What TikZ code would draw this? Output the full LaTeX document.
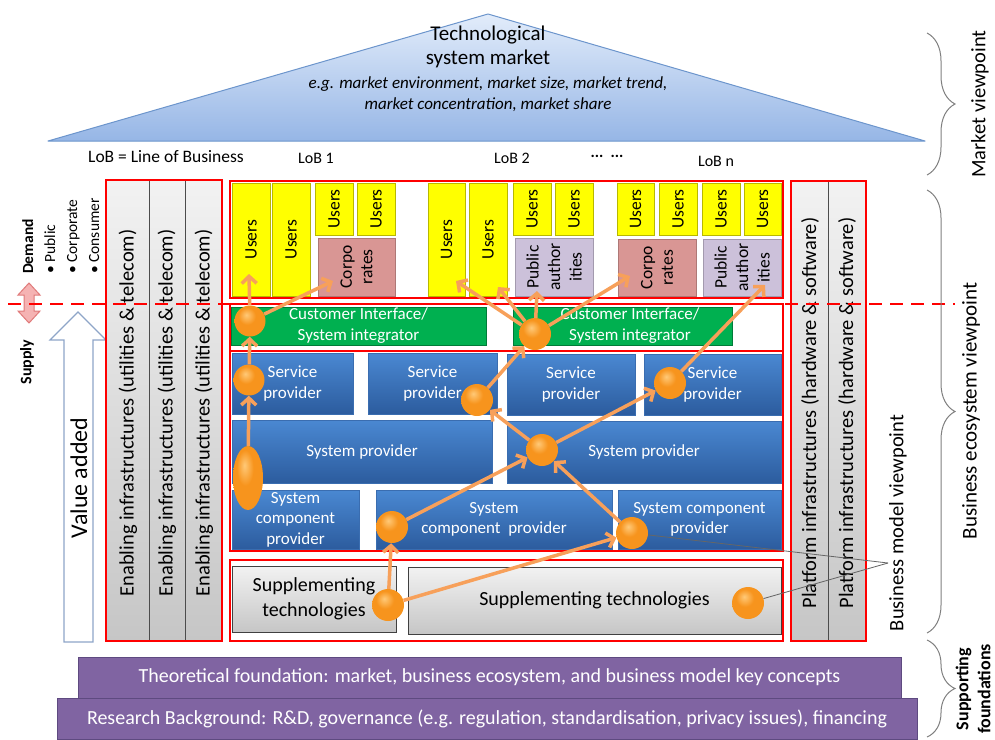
\documentclass[tikz,border=0pt]{standalone}
\usepackage{fontspec}
\setmainfont{Carlito}
\usetikzlibrary{arrows.meta,shapes.geometric,decorations.pathreplacing}
\definecolor{cUser}{HTML}{FFFF00}
\definecolor{cUserB}{HTML}{B8B800}
\definecolor{cCorp}{HTML}{D99694}
\definecolor{cPub}{HTML}{CCC1DA}
\definecolor{cGreen}{HTML}{00B050}
\definecolor{cBlueT}{HTML}{4A88D2}
\definecolor{cBlueB}{HTML}{2C5C9E}
\definecolor{cBlueD}{HTML}{3A6DB0}
\definecolor{cGrayT}{HTML}{F2F2F2}
\definecolor{cGrayB}{HTML}{C6C6C6}
\definecolor{cPurp}{HTML}{8064A2}
\definecolor{cPurpD}{HTML}{5E4A80}
\definecolor{cArr}{HTML}{F7A05A}
\definecolor{cBall}{HTML}{F7941D}
\definecolor{cBallL}{HTML}{FFC978}
\definecolor{cBallD}{HTML}{C9690C}
\definecolor{cTriT}{HTML}{E2ECFA}
\definecolor{cTriB}{HTML}{96B6E6}
\definecolor{cTriD}{HTML}{6C95CC}
\definecolor{cVA}{HTML}{8EA5C8}
\definecolor{cPinkF}{HTML}{F5B3B3}
\definecolor{cPinkD}{HTML}{E07A7A}
\definecolor{cBrace}{HTML}{7F7F7F}
\pgfdeclareradialshading{orbshade}{\pgfpoint{-6bp}{10bp}}{color(0bp)=(cBallL); color(14bp)=(cBall); color(40bp)=(cBall); color(52bp)=(cBallD); color(70bp)=(cBallD)}
\newcommand\fsz[2]{\fontsize{#1}{#2}\selectfont}
\newcommand\bx[7]{\pgfmathsetmacro\bxw{#4-#2}\pgfmathsetmacro\bxh{#5-#3}%
  \node[#6,minimum width=\bxw pt,minimum height=\bxh pt] (#1) at ({(#2+#4)/2},{(#3+#5)/2}) {#7};}
\newcommand\ulab[1]{\node[vt,font=\fsz{17.5}{20}] (#1t) at (#1) {Users};}
\begin{document}
\begin{tikzpicture}[x=1pt,y=-1pt,
  bxs/.style={inner sep=0pt,outer sep=0pt},
  ubox/.style={bxs,fill=cUser,draw=cUserB,line width=0.7pt},
  cbox/.style={bxs,fill=cCorp,draw=cCorp!80!black,line width=0.5pt},
  pbox/.style={bxs,fill=cPub,draw=cPub!80!black,line width=0.5pt},
  gbox/.style={bxs,fill=cGreen,draw=cGreen!70!black,line width=0.5pt,text=white,align=center,font=\fsz{17}{21}},
  blbox/.style={bxs,top color=cBlueT,bottom color=cBlueB,draw=cBlueD,line width=0.5pt,text=white,align=center,font=\fsz{17}{20.5}},
  grbox/.style={bxs,top color=cGrayT,bottom color=cGrayB,draw=black!75,line width=0.8pt,align=center,font=\fsz{20}{25}},
  colbox/.style={bxs,top color=cGrayT,bottom color=cGrayB,draw=black!70,line width=0.8pt},
  rfr/.style={bxs,draw=red,line width=2pt},
  vt/.style={rotate=90,inner sep=0pt,align=center},
  orb/.style={circle,shading=orbshade,minimum size=32pt,inner sep=0pt},
  oarr/.style={draw=cArr,line width=3.5pt,-{Straight Barb[length=7pt,width=15pt]}},
  thinl/.style={draw=black!60,line width=0.8pt},
  purbox/.style={bxs,fill=cPurp,draw=cPurpD,line width=1pt,text=white,font=\fsz{20}{22}},
  brc/.style={draw=cBrace,line width=1pt,decorate,decoration={brace,amplitude=28pt}},
  lob/.style={font=\fsz{16}{18},inner sep=0pt}
]
\useasboundingbox (0,0) rectangle (995,739);

% market triangle
\shadedraw[top color=cTriT,bottom color=cTriB,draw=cTriD,line width=1pt,line join=round] (48,141) -- (488,14) -- (925,141) -- cycle;
\node[align=center,font=\fsz{21}{24}] (tsm) at (488,47) {Technological\\system market};
\node[align=center,font=\itshape\fsz{17}{21}] (tse) at (488,94) {e.g. market environment, market size, market trend,\\market concentration, market share};

% LoB labels
\node[lob,font=\fsz{17.5}{18}] (lobdef) at (166,157) {LoB = Line of Business};
\node[lob] (lob1) at (316,158) {LoB 1};
\node[lob] (lob2) at (512,158) {LoB 2};
\node[lob] (lobd) at (607,156) {\textbf{...}\ \ \textbf{...}};
\node[lob] (lobn) at (716,161) {LoB n};

% demand / supply
\node[rotate=90,anchor=north west,align=left,inner sep=0pt,font=\fsz{15.5}{22}] (dem) at (22,274) {\textbf{Demand}\\• Public\\• Corporate\\• Consumer};
\node[vt,font=\bfseries\fsz{16}{18}] (sup) at (27,362) {Supply};
\filldraw[fill=cPinkF,draw=cPinkD,line width=1pt,line join=miter] (29,283) -- (40,295) -- (34,295) -- (34,311) -- (40,311) -- (29,323) -- (18,311) -- (24,311) -- (24,295) -- (18,295) -- cycle;
\filldraw[draw=cVA,fill=white,line width=1.2pt,line join=miter] (64,642) -- (93,642) -- (93,340) -- (106,340) -- (78,312) -- (50,340) -- (64,340) -- cycle;
\node[vt,font=\fsz{24}{26}] (va) at (79,478) {Value added};

% enabling infrastructures
\bx{e1}{106}{180}{149}{641}{colbox}{}
\bx{e2}{149}{180}{185}{641}{colbox}{}
\bx{e3}{185}{180}{222}{641}{colbox}{}
\node[vt,font=\fsz{20.5}{22}] (e1t) at (128,413) {Enabling infrastructures (utilities \& telecom)};
\node[vt,font=\fsz{20.5}{22}] (e2t) at (167,413) {Enabling infrastructures (utilities \& telecom)};
\node[vt,font=\fsz{20.5}{22}] (e3t) at (204,413) {Enabling infrastructures (utilities \& telecom)};

% platform infrastructures
\bx{pl1}{791}{181}{828}{641}{colbox}{}
\bx{pl2}{828}{181}{866}{641}{colbox}{}
\node[vt,font=\fsz{20.5}{22}] (pl1t) at (810,413) {Platform infrastructures (hardware \& software)};
\node[vt,font=\fsz{20.5}{22}] (pl2t) at (847,413) {Platform infrastructures (hardware \& software)};

% users row
\bx{u11}{232}{183}{270}{296}{ubox}{}\ulab{u11}
\bx{u12}{272}{183}{310}{296}{ubox}{}\ulab{u12}
\bx{u13}{315}{183}{353}{235}{ubox}{}\ulab{u13}
\bx{u14}{357}{183}{395}{235}{ubox}{}\ulab{u14}
\bx{c1}{318}{238}{395}{296}{cbox}{}
\node[vt,font=\fsz{17.5}{20.5}] (c1t) at (c1) {Corpo\\rates};
\bx{u21}{428}{183}{465}{296}{ubox}{}\ulab{u21}
\bx{u22}{469}{183}{507}{296}{ubox}{}\ulab{u22}
\bx{u23}{513}{183}{551}{235}{ubox}{}\ulab{u23}
\bx{u24}{555}{183}{593}{235}{ubox}{}\ulab{u24}
\bx{p2}{515}{238}{593}{296}{pbox}{}
\node[vt,font=\fsz{17.5}{21.5}] (p2t) at (p2) {Public\\author\\ities};
\bx{u31}{617}{183}{654}{235}{ubox}{}\ulab{u31}
\bx{u32}{659}{183}{697}{235}{ubox}{}\ulab{u32}
\bx{u33}{702}{183}{740}{235}{ubox}{}\ulab{u33}
\bx{u34}{744}{183}{781}{235}{ubox}{}\ulab{u34}
\bx{c3}{618}{239}{696}{296}{cbox}{}
\node[vt,font=\fsz{17.5}{20.5}] (c3t) at (c3) {Corpo\\rates};
\bx{p3}{703}{239}{781}{296}{pbox}{}
\node[vt,font=\fsz{17.5}{21.5}] (p3t) at (p3) {Public\\author\\ities};

% customer interface
\bx{g1}{231}{307}{486}{345}{gbox}{Customer Interface/\\System integrator}
\bx{g2}{513}{307}{732}{345}{gbox}{}
\node[align=center,text=white,font=\fsz{17}{21},inner sep=0pt] (g2t) at (630,326) {Customer Interface/\\System integrator};

% providers
\bx{s1}{232}{353}{353}{414}{blbox}{Service\\provider}
\bx{s2}{368}{353}{497}{414}{blbox}{Service\\provider}
\bx{s3}{507}{354}{635}{415}{blbox}{Service\\provider}
\bx{s4}{644}{354}{781}{415}{blbox}{Service\\provider}
\bx{sp1}{232}{420}{492}{483}{blbox}{System provider}
\bx{sp2}{507}{421}{781}{483}{blbox}{System provider}
\bx{scp1}{232}{490}{359}{549}{blbox}{System\\component\\provider}
\bx{scp2}{376}{490}{612}{549}{blbox}{System\\component\ \ provider}
\bx{scp3}{618}{490}{781}{549}{blbox}{System component\\provider}

% supplementing technologies
\bx{st1}{232}{566}{396}{632}{grbox}{Supplementing\\technologies}
\bx{st2}{408}{567}{781}{634}{grbox}{Supplementing technologies}

% red frames
\bx{rfE}{106}{180}{222}{641}{rfr}{}
\bx{rfP}{791}{181}{866}{641}{rfr}{}
\bx{rf1}{230}{181}{783}{298}{rfr}{}
\bx{rf2}{230}{304}{783}{351}{rfr}{}
\bx{rf3}{230}{351}{783}{551}{rfr}{}
\bx{rf4}{230}{560}{783}{641}{rfr}{}

% demand/supply divide
\coordinate (dlA) at (8,304);
\coordinate (dlB) at (955,304);
\draw[red,line width=2pt,dash pattern=on 13pt off 8pt] (dlA) -- (dlB);

% foundations
\bx{f1}{78}{657}{901}{698}{purbox}{Theoretical foundation: market, business ecosystem, and business model key concepts}
\bx{f2}{57}{698}{917}{739}{purbox}{Research Background: R\&D, governance (e.g. regulation, standardisation, privacy issues), financing}

% business model viewpoint
\node[vt,font=\fsz{20.5}{24}] (bmvt) at (898,523) {Business model viewpoint};
\coordinate (bmv) at (888,563);

% balls
\node[orb,minimum size=31pt] (b1) at (250,321) {};
\node[orb,minimum size=31pt] (b2) at (249,380) {};
\node[ellipse,shading=orbshade,minimum width=30pt,minimum height=64pt,inner sep=0pt] (b3) at (248,478) {};
\node[orb] (b4) at (477,400) {};
\node[orb] (b5) at (535,334) {};
\node[orb] (b6) at (670,383) {};
\node[orb] (b7) at (542,450) {};
\node[orb] (b8) at (632,533) {};
\node[orb] (b9) at (392,527) {};
\node[orb] (b10) at (388,605) {};
\node[orb] (b11) at (748,603) {};

\draw[thinl] (b8) -- (bmv);
\draw[thinl] (b11) -- (bmv);

% arrow targets
\coordinate (tA1) at (249,274);
\coordinate (tA2) at (333,281);
\coordinate (tA6) at (456,281);
\coordinate (tA7) at (498,287);
\coordinate (tA8) at (537,291);
\coordinate (tA9) at (630,276);
\coordinate (tA10) at (765,285);

\draw[oarr] (b1) -- (tA1);
\draw[oarr] (b1) -- (tA2);
\draw[oarr] (b2) -- (b1);
\draw[oarr] (b3) -- (b2);
\draw[oarr] (b4) -- (b5);
\draw[oarr] (b5) -- (tA6);
\draw[oarr] (b5) -- (tA7);
\draw[oarr] (b5) -- (tA8);
\draw[oarr] (b5) -- (tA9);
\draw[oarr] (b6) -- (tA10);
\draw[oarr] (b7) -- (b6);
\draw[oarr] (b7) -- (b4);
\draw[oarr] (b9) -- (b7);
\draw[oarr] (b8) -- (b7);
\draw[oarr] (b10) -- (b9);
\draw[oarr] (b10) -- (b8);

% braces and viewpoint labels
\coordinate (m1) at (927,33);
\coordinate (m2) at (927,175);
\coordinate (e1b) at (927,190);
\coordinate (e2b) at (927,633);
\coordinate (s1b) at (927,640);
\coordinate (s2b) at (927,737);
\draw[brc] (m1) -- (m2);
\draw[brc] (e1b) -- (e2b);
\draw[brc] (s1b) -- (s2b);
\node[vt,font=\fsz{20.5}{24}] (mvt) at (980,104) {Market viewpoint};
\node[vt,font=\fsz{21}{24}] (evt) at (971,411) {Business ecosystem viewpoint};
\node[vt,font=\bfseries\fsz{18}{22}] (svt) at (973,689) {Supporting\\foundations};
\end{tikzpicture}
\end{document}
